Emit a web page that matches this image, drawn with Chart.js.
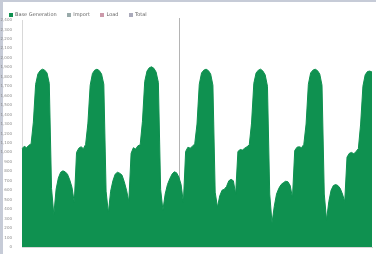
<!DOCTYPE html>
<html>
<head>
<meta charset="utf-8">
<script src="https://cdn.jsdelivr.net/npm/chart.js@4/dist/chart.umd.min.js"></script>
<style>
  html, body { margin: 0; padding: 0; background: #fff; }
  body { width: 376px; height: 254px; overflow: hidden; position: relative; }
  #frame { position: absolute; left: 0; top: 0; width: 373px; height: 252px;
           border-left: 3px solid #c6cbd7; border-top: 2px solid #c6cbd7; }
  #wrap { position: absolute; left: 0; top: 0; width: 376px; height: 254px; }
  #legend { position: absolute; left: 9px; top: 11px; font: 5px "DejaVu Sans", sans-serif;
            color: #666; white-space: nowrap; }
  #legend span { margin-right: 9px; }
  #legend i { display: inline-block; width: 4px; height: 4px; margin-right: 2px;
              vertical-align: middle; }
</style>
</head>
<body>
<div id="frame"></div>
<div id="wrap"><canvas id="chart"></canvas></div>
<div id="legend">
  <span><i style="background:#0f9150"></i>Base Generation</span>
  <span><i style="background:#9aa"></i>Import</span>
  <span><i style="background:#c9a"></i>Load</span>
  <span><i style="background:#aab"></i>Total</span>
</div>
<script>
/* ---- data: hourly values, one array per day ---- */
const day0 = [1040, 1065, 1050, 1075, 1090, 1320, 1720, 1830, 1865, 1880, 1870, 1840, 1730, 620];
const day1 = [340, 610, 730, 790, 805, 795, 770, 710, 630, 470, 1000, 1045,
              1060, 1040, 1085, 1310, 1710, 1835, 1870, 1880, 1865, 1830, 1720, 590];
const day2 = [360, 590, 700, 770, 790, 780, 760, 690, 600, 480, 990, 1050,
              1035, 1070, 1080, 1330, 1750, 1860, 1895, 1905, 1890, 1850, 1740, 610];
const day3 = [390, 560, 660, 720, 770, 795, 785, 740, 660, 470, 1010, 1055,
              1045, 1065, 1090, 1300, 1720, 1840, 1870, 1880, 1865, 1830, 1710, 580];
const day4 = [420, 540, 600, 610, 640, 700, 715, 700, 560, 1010, 1030, 1025,
              1045, 1060, 1080, 1310, 1730, 1840, 1870, 1880, 1860, 1820, 1700, 560];
const day5 = [255, 430, 560, 620, 660, 680, 695, 690, 650, 520, 1020, 1055,
              1060, 1050, 1085, 1300, 1720, 1840, 1870, 1880, 1865, 1830, 1710, 560];
const day6 = [285, 480, 600, 650, 660, 650, 620, 560, 480, 950, 990, 1000,
              985, 1010, 1040, 1300, 1700, 1820, 1855, 1860, 1850];

const dateLabels = ['19.04.09', '20.04.09', '21.04.09', '22.04.09', '23.04.09', '24.04.09', '25.04.09'];
const yMax = 2400;
const yStep = 100;
const cursorIndex = 69;

const values = [].concat(day0, day1, day2, day3, day4, day5, day6);
const labels = values.map((v, i) => (i % 24 === 0 ? dateLabels[i / 24] : ''));

// thin grey cursor line behind the fill
const cursorLine = {
  id: 'cursorLine',
  beforeDatasetsDraw(chart) {
    const { ctx, chartArea, scales } = chart;
    const x = Math.round(scales.x.getPixelForValue(cursorIndex)) + 0.5;
    ctx.save();
    ctx.strokeStyle = '#b4b4b4';
    ctx.lineWidth = 1;
    ctx.beginPath();
    ctx.moveTo(x, chartArea.top - 2);
    ctx.lineTo(x, chartArea.bottom);
    ctx.stroke();
    ctx.restore();
  }
};

new Chart(document.getElementById('chart'), {
  type: 'line',
  data: {
    labels,
    datasets: [{
      label: 'Base Generation',
      data: values,
      fill: 'origin',
      backgroundColor: '#0f9150',
      borderColor: '#0f9150',
      borderWidth: 1,
      pointRadius: 0,
      tension: 0
    }]
  },
  options: {
    responsive: true,
    maintainAspectRatio: false,
    animation: false,
    layout: { padding: { top: 20, right: 4, left: 0, bottom: 0 } },
    plugins: { legend: { display: false }, tooltip: { enabled: false } },
    scales: {
      x: {
        grid: { display: false },
        border: { color: '#d8d8d8' },
        ticks: {
          autoSkip: false, maxRotation: 0, padding: 1,
          color: '#8a8a8a', font: { family: 'DejaVu Sans', size: 4 },
          callback: (v, i) => labels[i]
        },
        afterFit: s => { s.height = 7; }
      },
      y: {
        min: 0, max: yMax,
        grid: { display: false },
        border: { color: '#d8d8d8' },
        ticks: {
          stepSize: yStep, padding: 2,
          color: '#8a8a8a', font: { family: 'DejaVu Sans', size: 4 }
        },
        afterFit: s => { s.width = 22; }
      }
    }
  },
  plugins: [cursorLine]
});
</script>
</body>
</html>
